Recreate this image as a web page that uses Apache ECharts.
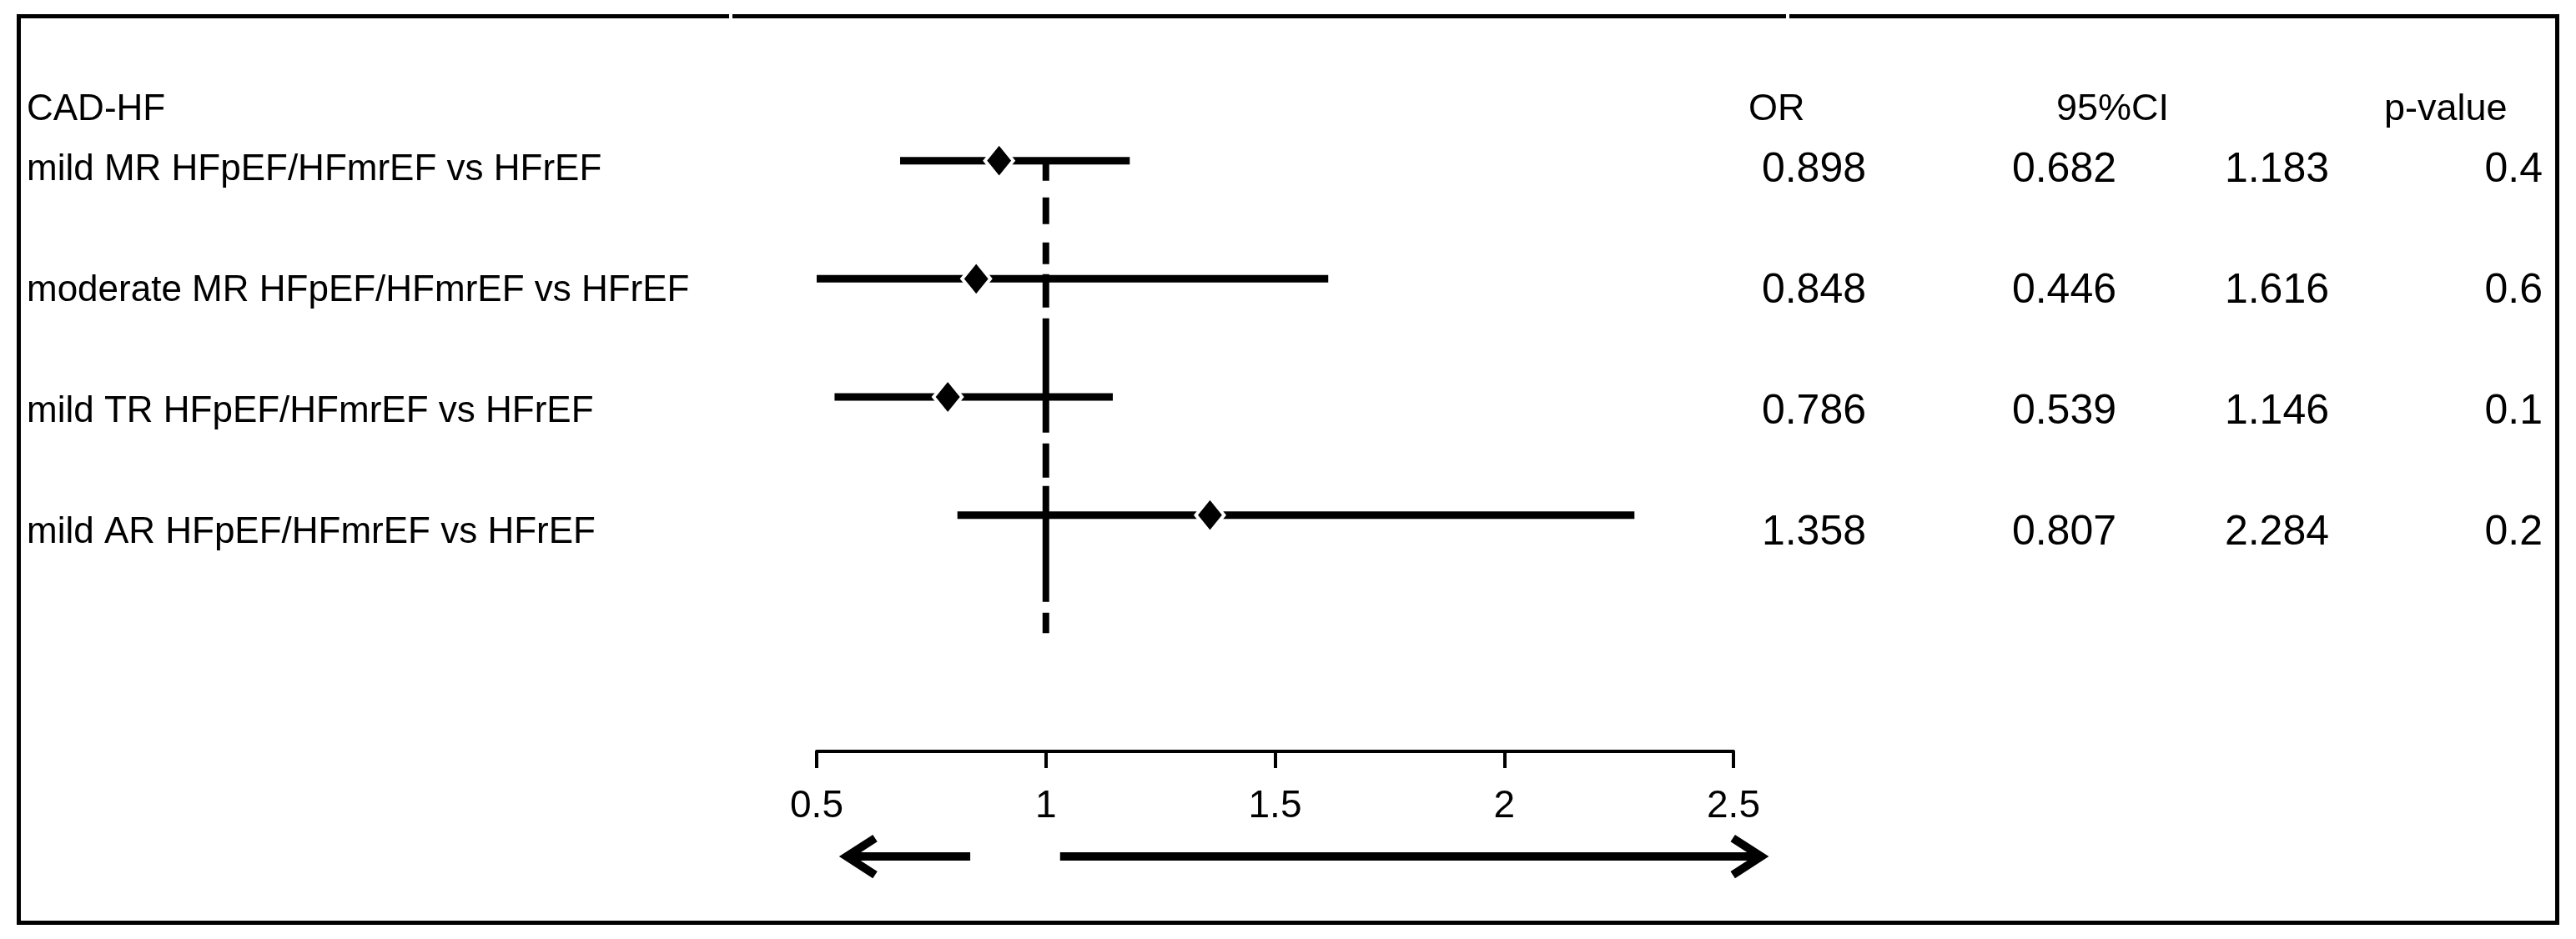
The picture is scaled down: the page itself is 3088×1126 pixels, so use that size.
<!DOCTYPE html>
<html><head><meta charset="utf-8">
<script src="https://cdn.jsdelivr.net/npm/echarts@6/dist/echarts.min.js"></script>
<style>html,body{margin:0;padding:0;background:#fff}#c{width:3088px;height:1126px}</style>
</head><body><div id="c"></div>
<script>
// ---------------- data ----------------
const groupTitle = 'CAD-HF';
const headers = ['OR', '95%CI', 'p-value'];
const categories = [
  'mild MR HFpEF/HFmrEF vs HFrEF',
  'moderate MR HFpEF/HFmrEF vs HFrEF',
  'mild TR HFpEF/HFmrEF vs HFrEF',
  'mild AR HFpEF/HFmrEF vs HFrEF'
];
const orValues = [0.898, 0.848, 0.786, 1.358];
const ciLower  = [0.682, 0.446, 0.539, 0.807];
const ciUpper  = [1.183, 1.616, 1.146, 2.284];
const pValues  = [0.4, 0.6, 0.1, 0.2];
const xTicks   = [0.5, 1, 1.5, 2, 2.5];
const refValue = 1;
const refRows  = [1, 5];
const arrowSpans = [[0.835, 0.551], [1.031, 2.575]]; // [start, tip]
const arrowRow = 6.89;

// ---------------- chart ----------------
const FONT = '"Liberation Sans", Arial, sans-serif';
const xMin = xTicks[0], xMax = xTicks[xTicks.length - 1];
const chart = echarts.init(document.getElementById('c'), null, {renderer: 'canvas'});

const textRows = [[0, 0.5, -1]].concat(categories.map((c, i) => [0, i + 1, i]));

const option = {
  animation: false,
  backgroundColor: '#fff',
  grid: [
    {left: 979, right: 1010, top: 51, bottom: 225, containLabel: false, outerBoundsMode: 'none'},
    {left: 0, right: 0, top: 59, bottom: 342, containLabel: false, outerBoundsMode: 'none'}
  ],
  xAxis: [
    {
      type: 'value', gridIndex: 0, min: xMin, max: xMax, interval: xTicks[1] - xTicks[0],
      axisLine: {show: true, onZero: false, lineStyle: {color: '#000', width: 4}},
      axisTick: {show: true, inside: false, length: 20, lineStyle: {color: '#000', width: 4}},
      axisLabel: {show: true, color: '#000', fontSize: 46, fontFamily: FONT, margin: 43,
        formatter: v => String(v)},
      splitLine: {show: false}
    },
    {type: 'value', gridIndex: 1, min: 0, max: 1, show: false}
  ],
  yAxis: [
    {type: 'value', gridIndex: 0, min: 0, max: 6, inverse: true, show: false},
    {type: 'value', gridIndex: 1, min: 0, max: 5, inverse: true, show: false}
  ],
  graphic: [
    {type: 'rect', left: 20, top: 17, shape: {width: 3043, height: 1087},
      style: {fill: 'none', stroke: '#000', lineWidth: 5}, z: 100},
    {type: 'rect', left: 874, top: 12, shape: {width: 4, height: 10}, style: {fill: '#fff'}, z: 101},
    {type: 'rect', left: 2141, top: 12, shape: {width: 4, height: 10}, style: {fill: '#fff'}, z: 101}
  ],
  series: [
    {
      type: 'line', xAxisIndex: 0, yAxisIndex: 0, z: 2,
      data: refRows.map(r => [refValue, r]),
      symbol: 'none', silent: true,
      lineStyle: {color: '#000', width: 8, cap: 'butt',
        type: [24, 20, 32, 22, 26, 12, 40, 13, 137, 13, 41, 10, 139, 13, 40, 60]}
    },
    {
      type: 'custom', xAxisIndex: 0, yAxisIndex: 0, z: 3, silent: true,
      data: categories.map((c, i) => [ciLower[i], ciUpper[i], i + 1]),
      encode: {x: [0, 1], y: 2},
      renderItem: function (params, api) {
        const lo = Math.max(api.value(0), xMin), hi = Math.min(api.value(1), xMax);
        const p1 = api.coord([lo, api.value(2)]), p2 = api.coord([hi, api.value(2)]);
        return {type: 'line', shape: {x1: p1[0], y1: p1[1], x2: p2[0], y2: p2[1]},
          style: {stroke: '#000', lineWidth: 9, lineCap: 'butt'}};
      }
    },
    {
      type: 'scatter', xAxisIndex: 0, yAxisIndex: 0, z: 5, silent: true,
      data: orValues.map((v, i) => [v, i + 1]),
      symbol: 'diamond', symbolSize: [34, 42],
      itemStyle: {color: '#000', borderColor: '#fff', borderWidth: 4, opacity: 1}
    },
    {
      type: 'custom', xAxisIndex: 0, yAxisIndex: 0, z: 4, silent: true, clip: false,
      data: arrowSpans.map(a => [a[0], a[1], arrowRow]),
      encode: {x: [0, 1], y: 2},
      renderItem: function (params, api) {
        const s = api.coord([api.value(0), api.value(2)]);
        const t = api.coord([api.value(1), api.value(2)]);
        const dir = t[0] > s[0] ? 1 : -1;
        const vx = t[0] - dir * 8; // miter overshoot compensation
        return {
          type: 'group',
          children: [
            {type: 'line', shape: {x1: s[0], y1: s[1], x2: vx, y2: t[1]},
              style: {stroke: '#000', lineWidth: 10, lineCap: 'butt'}},
            {type: 'polyline', shape: {points: [[vx - dir * 34, t[1] - 22], [vx, t[1]], [vx - dir * 34, t[1] + 22]]},
              style: {stroke: '#000', fill: 'none', lineWidth: 10, lineJoin: 'miter', miterLimit: 10, lineCap: 'butt'}}
          ]
        };
      }
    },
    {
      type: 'custom', xAxisIndex: 1, yAxisIndex: 1, z: 6, silent: true, clip: false,
      data: textRows,
      encode: {x: 0, y: 1},
      renderItem: function (params, api) {
        const y = api.coord([0, api.value(1)])[1];
        const idx = api.value(2);
        const T = (text, x, align, size) => ({type: 'text', x: x, y: y,
          style: {text: text, fill: '#000', fontSize: size, fontFamily: FONT, align: align, verticalAlign: 'middle'}});
        if (idx < 0) {
          return {type: 'group', children: [
            T(groupTitle, 32, 'left', 44),
            T(headers[0], 2096, 'left', 45),
            T(headers[1], 2465, 'left', 45),
            T(headers[2], 2858, 'left', 45)
          ]};
        }
        return {type: 'group', children: [
          T(categories[idx], 32, 'left', 44),
          T(orValues[idx].toFixed(3), 2237, 'right', 50),
          T(ciLower[idx].toFixed(3), 2537, 'right', 50),
          T(ciUpper[idx].toFixed(3), 2792, 'right', 50),
          T(String(pValues[idx]), 3048, 'right', 50)
        ]};
      }
    }
  ]
};
chart.setOption(option);
</script>
</body></html>
